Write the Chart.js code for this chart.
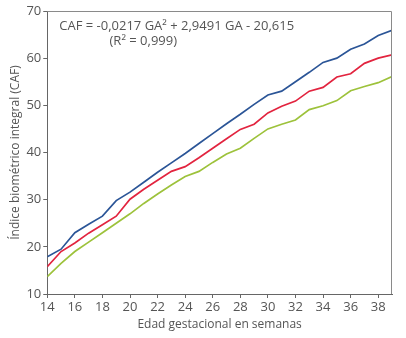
<!DOCTYPE html>
<html>
<head>
<meta charset="utf-8">
<script src="https://cdn.jsdelivr.net/npm/chart.js@4"></script>
<style>
  html, body { margin: 0; padding: 0; background: #fff; }
  #wrap { width: 406px; height: 338px; }
</style>
</head>
<body>
<div id="wrap"><canvas id="cafChart"></canvas></div>
<script>
// semanas de gestación
const semanas = [14, 15, 16, 17, 18, 19, 20, 21, 22, 23, 24, 25, 26, 27, 28, 29, 30, 31, 32, 33, 34, 35, 36, 37, 38, 39];
const curvaAzul = [17.9, 19.5, 23.0, 24.8, 26.5, 29.8, 31.6, 33.7, 35.8, 37.8, 39.8, 41.9, 44.0, 46.1, 48.1, 50.2, 52.2, 53.0, 55.0, 57.0, 59.1, 60.0, 61.9, 63.0, 64.8, 65.9];
const curvaRoja = [15.8, 19.0, 20.8, 22.9, 24.7, 26.5, 30.1, 32.2, 34.1, 36.0, 37.0, 38.9, 40.9, 42.9, 44.9, 46.0, 48.4, 49.8, 50.9, 53.0, 53.8, 56.0, 56.7, 58.9, 60.0, 60.7];
const curvaVerde = [13.7, 16.5, 19.0, 21.0, 23.0, 25.0, 27.0, 29.2, 31.2, 33.1, 34.9, 36.0, 37.9, 39.7, 40.9, 43.0, 45.0, 46.0, 46.9, 49.1, 49.9, 51.0, 53.1, 54.0, 54.8, 56.1];
const ticksX = [14, 16, 18, 20, 22, 24, 26, 28, 30, 32, 34, 36, 38];
const ecuacion = 'CAF = -0,0217 GA² + 2,9491 GA - 20,615';
const ajuste = '(R² = 0,999)';

const fuente = "'Open Sans', 'Liberation Sans', sans-serif";
const gris = '#555555';

function puntos(valores) {
    return semanas.map(function (s, i) { return { x: s, y: valores[i] }; });
}

// marco superior/derecho y texto de la ecuación
const marco = {
    id: 'marco',
    afterDraw: function (chart) {
        const a = chart.chartArea;
        const c = chart.ctx;
        c.save();
        c.strokeStyle = '#8a8a8a';
        c.lineWidth = 1;
        c.beginPath();
        c.moveTo(a.left, a.top + 0.5);
        c.lineTo(a.right - 0.5, a.top + 0.5);
        c.lineTo(a.right - 0.5, a.bottom);
        c.stroke();
        c.fillStyle = gris;
        c.font = '13px ' + fuente;
        c.textBaseline = 'middle';
        c.textAlign = 'left';
        c.fillText(ecuacion, a.left + 12, a.top + 15);
        c.textAlign = 'center';
        c.fillText(ajuste, a.left + 96, a.top + 30);
        c.restore();
    }
};

const linea = { borderWidth: 1.7, pointRadius: 0, tension: 0, fill: false };

new Chart(document.getElementById('cafChart'), {
    type: 'line',
    data: {
        datasets: [
            Object.assign({ label: 'azul', data: puntos(curvaAzul), borderColor: '#2b5597' }, linea),
            Object.assign({ label: 'roja', data: puntos(curvaRoja), borderColor: '#e2243f' }, linea),
            Object.assign({ label: 'verde', data: puntos(curvaVerde), borderColor: '#9dc23b' }, linea)
        ]
    },
    options: {
        responsive: true,
        maintainAspectRatio: false,
        animation: false,
        layout: { padding: { top: 11, right: 14, bottom: 6, left: 8 } },
        plugins: {
            legend: { display: false },
            tooltip: { enabled: false }
        },
        scales: {
            x: {
                type: 'linear',
                min: 14,
                max: 39,
                afterBuildTicks: function (scale) {
                    scale.ticks = ticksX.map(function (v) { return { value: v }; });
                },
                grid: { drawOnChartArea: false, drawTicks: true, tickLength: 4, color: '#666' },
                border: { color: '#666', width: 1 },
                ticks: { color: gris, font: { family: fuente, size: 13 }, padding: 1, maxRotation: 0 },
                title: {
                    display: true,
                    text: 'Edad gestacional en semanas',
                    color: gris,
                    font: { family: fuente, size: 12 },
                    padding: { top: 2, bottom: 0 }
                }
            },
            y: {
                min: 10,
                max: 70,
                ticks: { stepSize: 10, color: gris, font: { family: fuente, size: 13 }, padding: 2 },
                grid: { drawOnChartArea: false, drawTicks: true, tickLength: 4, color: '#666' },
                border: { color: '#666', width: 1 },
                title: {
                    display: true,
                    text: 'Índice biométrico integral (CAF)',
                    color: gris,
                    font: { family: fuente, size: 12 },
                    padding: { top: 0, bottom: 2 }
                }
            }
        }
    },
    plugins: [marco]
});
</script>
</body>
</html>
